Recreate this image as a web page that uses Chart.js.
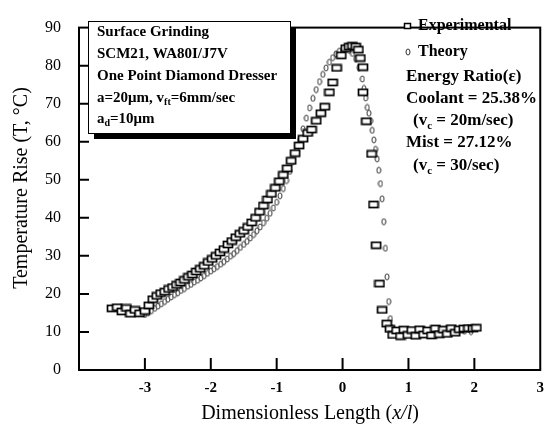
<!DOCTYPE html>
<html>
<head>
<meta charset="utf-8">
<script src="https://cdn.jsdelivr.net/npm/chart.js@4.4.1/dist/chart.umd.min.js"></script>
<style>
  body { margin: 0; background: #fff; }
  #wrap { width: 553px; height: 426px; }
</style>
</head>
<body>
<div id="wrap"><canvas id="myChart" width="553" height="426"></canvas></div>
<script>
// Datos
const xTicks = [-3, -2, -1, 0, 1, 2, 3];
const yTicks = [0, 10, 20, 30, 40, 50, 60, 70, 80, 90];

// Experimental (cuadros)
const expX = [-3.50, -3.42, -3.35, -3.28, -3.22, -3.15, -3.08, -3.00, -2.94, -2.88,
  -2.82, -2.76, -2.70, -2.64, -2.58, -2.52, -2.46, -2.40, -2.34, -2.28,
  -2.22, -2.16, -2.10, -2.04, -1.98, -1.92, -1.86, -1.80, -1.74, -1.68,
  -1.62, -1.56, -1.50, -1.44, -1.38, -1.32, -1.26, -1.20, -1.14, -1.08,
  -1.02, -0.96, -0.90, -0.84, -0.78, -0.72, -0.66, -0.60, -0.53, -0.47,
  -0.40, -0.33, -0.27, -0.20, -0.15, -0.09, -0.02, 0.05, 0.10, 0.15,
  0.20, 0.24, 0.27, 0.31, 0.31, 0.36, 0.44, 0.47, 0.51, 0.56,
  0.60, 0.67, 0.72, 0.76, 0.82, 0.88, 0.93, 0.99, 1.05, 1.11,
  1.17, 1.23, 1.29, 1.35, 1.41, 1.47, 1.53, 1.59, 1.65, 1.71,
  1.77, 1.84, 1.91, 1.98, 2.03];
const expY = [16.2, 16.5, 15.4, 16.3, 14.8, 15.8, 14.9, 15.5, 17.0, 18.6,
  19.5, 20.2, 20.6, 21.3, 21.8, 22.4, 23.0, 23.7, 24.5, 25.1,
  25.9, 26.6, 27.4, 28.4, 29.2, 30.0, 30.9, 31.8, 33.0, 33.9,
  34.9, 35.8, 36.6, 37.6, 38.8, 40.0, 41.6, 43.2, 44.8, 46.3,
  47.9, 49.6, 51.3, 53.0, 55.0, 57.0, 59.0, 60.8, 62.3, 63.2,
  65.5, 67.5, 69.2, 73.0, 75.6, 79.4, 82.7, 84.6, 85.0, 85.2,
  85.0, 84.2, 82.0, 79.6, 73.0, 65.4, 56.8, 43.5, 32.8, 22.7,
  15.8, 12.2, 10.8, 9.2, 10.4, 8.9, 10.6, 9.2, 10.5, 9.0,
  10.7, 9.3, 10.4, 9.1, 10.9, 9.4, 10.6, 9.5, 11.0, 9.8,
  10.7, 10.9, 11.0, 10.9, 11.1];

// Teoria (circulos)
const theoX = [-3.00, -2.95, -2.90, -2.85, -2.80, -2.75, -2.70, -2.65, -2.60, -2.55,
  -2.50, -2.45, -2.40, -2.35, -2.30, -2.25, -2.20, -2.15, -2.10, -2.05,
  -2.00, -1.95, -1.90, -1.85, -1.80, -1.75, -1.70, -1.65, -1.60, -1.55,
  -1.50, -1.45, -1.40, -1.35, -1.30, -1.25, -1.20, -1.15, -1.10, -1.05,
  -1.00, -0.95, -0.90, -0.85, -0.80, -0.75, -0.70, -0.65, -0.60, -0.55,
  -0.50, -0.45, -0.40, -0.35, -0.30, -0.25, -0.20, -0.15, -0.10, -0.05,
  0.00, 0.05, 0.10, 0.15, 0.20, 0.25, 0.30, 0.325, 0.35, 0.375,
  0.40, 0.425, 0.45, 0.475, 0.50, 0.525, 0.55, 0.575, 0.60, 0.625,
  0.65, 0.675, 0.70, 0.725, 0.75, 0.85, 0.95, 1.05, 1.15, 1.25,
  1.35, 1.45, 1.55, 1.65, 1.75, 1.85, 1.95];
const theoY = [14.6, 15.1, 15.6, 16.2, 16.8, 17.4, 18.0, 18.6, 19.2, 19.8,
  20.3, 20.9, 21.4, 22.0, 22.5, 23.1, 23.6, 24.2, 24.8, 25.4,
  26.0, 26.6, 27.2, 27.8, 28.5, 29.2, 29.9, 30.6, 31.4, 32.2,
  33.0, 33.8, 34.7, 35.6, 36.6, 37.6, 38.7, 39.9, 41.2, 42.6,
  44.1, 45.8, 47.7, 49.8, 52.2, 54.8, 57.6, 60.5, 63.4, 66.2,
  68.9, 71.4, 73.7, 75.8, 77.7, 79.4, 80.9, 82.1, 83.1, 83.8,
  84.2, 84.3, 84.0, 83.2, 81.8, 79.5, 76.5, 74.0, 71.5, 69.0,
  67.5, 65.5, 63.0, 60.5, 58.0, 55.5, 52.5, 49.0, 45.0, 39.0,
  32.0, 24.5, 18.0, 13.5, 11.0, 10.2, 10.0, 10.1, 9.9, 10.0,
  10.1, 10.0, 10.2, 10.0, 10.1, 10.2, 10.1];

const serif = '"Liberation Serif", "Times New Roman", serif';

// marcadores
function boxMarker(w, h, lw) {
    const c = document.createElement('canvas');
    c.width = w; c.height = h;
    const g = c.getContext('2d');
    g.fillStyle = '#fff';
    g.fillRect(1, 1, w - 2, h - 2);
    g.strokeStyle = '#000';
    g.lineWidth = lw;
    g.strokeRect(1.5, 1.5, w - 3, h - 3);
    return c;
}
function ovalMarker() {
    const c = document.createElement('canvas');
    c.width = 6; c.height = 8;
    const g = c.getContext('2d');
    g.beginPath();
    g.ellipse(3, 4, 2, 3, 0, 0, Math.PI * 2);
    g.fillStyle = '#fff';
    g.fill();
    g.strokeStyle = '#333';
    g.lineWidth = 1;
    g.stroke();
    return c;
}
const sq = boxMarker(12, 9, 1.7);
const sqSmall = boxMarker(9, 8, 1.5);
const ov = ovalMarker();

// texto con sub/superindices
function drawRuns(ctx, runs, x, y) {
    let cx = x;
    runs.forEach(r => {
        ctx.font = r.font;
        ctx.fillText(r.t, cx, y + (r.dy || 0));
        cx += ctx.measureText(r.t).width;
    });
}

const decorPlugin = {
    id: 'decor',
    afterDraw(chart) {
        const ctx = chart.ctx;
        const a = chart.chartArea;
        const xs = chart.scales.x, ys = chart.scales.y;
        ctx.save();
        ctx.strokeStyle = '#000';
        ctx.fillStyle = '#000';

        // marco
        ctx.lineWidth = 2;
        ctx.strokeRect(a.left, a.top, a.right - a.left, a.bottom - a.top);

        // ticks hacia adentro
        ctx.lineWidth = 2;
        ctx.beginPath();
        yTicks.forEach(v => {
            if (v === 0 || v === 90) return;
            const py = ys.getPixelForValue(v);
            ctx.moveTo(a.left, py);
            ctx.lineTo(a.left + 10, py);
        });
        xTicks.forEach(v => {
            if (v === 3) return;
            const px = xs.getPixelForValue(v);
            ctx.moveTo(px, a.bottom);
            ctx.lineTo(px, a.bottom - 12);
        });
        ctx.stroke();

        // caja de condiciones
        const bx = 88, by = 21, bw = 202, bh = 112;
        ctx.fillRect(bx + 6, by + 6, bw, bh);
        ctx.fillStyle = '#fff';
        ctx.fillRect(bx, by, bw, bh);
        ctx.lineWidth = 1;
        ctx.strokeRect(bx + 0.5, by + 0.5, bw, bh);
        ctx.fillStyle = '#000';
        ctx.textBaseline = 'middle';
        ctx.textAlign = 'left';
        const f = 'bold 15px ' + serif;
        const fs = 'bold 10px ' + serif;
        drawRuns(ctx, [{ t: 'Surface Grinding', font: f }], 97, 32);
        drawRuns(ctx, [{ t: 'SCM21, WA80I/J7V', font: f }], 97, 54);
        drawRuns(ctx, [{ t: 'One Point Diamond Dresser', font: f }], 97, 76);
        drawRuns(ctx, [{ t: 'a=20\u03bcm, v', font: f }, { t: 'ft', font: fs, dy: 4 }, { t: '=6mm/sec', font: f }], 97, 98);
        drawRuns(ctx, [{ t: 'a', font: f }, { t: 'd', font: fs, dy: 4 }, { t: '=10\u03bcm', font: f }], 97, 119);

        // leyenda
        ctx.drawImage(sqSmall, 403, 22);
        ctx.drawImage(ov, 405, 48);
        drawRuns(ctx, [{ t: 'Experimental', font: 'bold 16px ' + serif }], 418, 26);
        drawRuns(ctx, [{ t: 'Theory', font: 'bold 16px ' + serif }], 418, 52);

        const fb = 'bold 17px ' + serif;
        const fbs = 'bold 11px ' + serif;
        drawRuns(ctx, [{ t: 'Energy Ratio(\u03b5)', font: fb }], 406, 77);
        drawRuns(ctx, [{ t: 'Coolant = 25.38%', font: fb }], 406, 99);
        drawRuns(ctx, [{ t: '(v', font: fb }, { t: 'c', font: fbs, dy: 5 }, { t: ' = 20m/sec)', font: fb }], 413, 121);
        drawRuns(ctx, [{ t: 'Mist = 27.12%', font: fb }], 406, 143);
        drawRuns(ctx, [{ t: '(v', font: fb }, { t: 'c', font: fbs, dy: 5 }, { t: ' = 30/sec)', font: fb }], 413, 166);

        // titulos de ejes
        const ft = '20px ' + serif;
        const t1 = 'Dimensionless Length (', t2 = 'x/l', t3 = ')';
        ctx.font = ft; const w1 = ctx.measureText(t1).width;
        ctx.font = 'italic ' + ft; const w2 = ctx.measureText(t2).width;
        ctx.font = ft; const w3 = ctx.measureText(t3).width;
        const sx = 310 - (w1 + w2 + w3) / 2;
        drawRuns(ctx, [{ t: t1, font: ft }, { t: t2, font: 'italic ' + ft }, { t: t3, font: ft }], sx, 414);

        ctx.translate(22, 188);
        ctx.rotate(-Math.PI / 2);
        ctx.textAlign = 'center';
        ctx.font = ft;
        ctx.fillText('Temperature Rise (T, \u00b0C)', 0, 0);
        ctx.restore();
    }
};

const expData = expX.map((x, i) => ({ x: x, y: expY[i] }));
const theoData = theoX.map((x, i) => ({ x: x, y: theoY[i] }));

const ctx = document.getElementById('myChart').getContext('2d');
const myChart = new Chart(ctx, {
    type: 'scatter',
    data: {
        datasets: [
            { label: 'Experimental', data: expData, pointStyle: sq, pointRadius: 5 },
            { label: 'Theory', data: theoData, pointStyle: ov, pointRadius: 3 }
        ]
    },
    options: {
        responsive: false,
        animation: false,
        devicePixelRatio: 1,
        layout: { padding: { top: 15, right: 7, left: 0, bottom: 0 } },
        plugins: {
            legend: { display: false },
            tooltip: { enabled: false }
        },
        scales: {
            x: {
                type: 'linear',
                min: -4,
                max: 3,
                afterBuildTicks: s => { s.ticks = xTicks.map(v => ({ value: v })); },
                afterFit: s => { s.height = 56; },
                grid: { display: false, drawTicks: false },
                border: { display: false },
                ticks: {
                    color: '#000',
                    padding: 9,
                    maxRotation: 0,
                    font: { family: serif, size: 15, weight: 'bold' }
                }
            },
            y: {
                min: 0,
                max: 90,
                afterBuildTicks: s => { s.ticks = yTicks.map(v => ({ value: v })); },
                afterFit: s => { s.width = 79; },
                grid: { display: false, drawTicks: false },
                border: { display: false },
                ticks: {
                    color: '#000',
                    padding: 18,
                    font: { family: serif, size: 16 }
                }
            }
        }
    },
    plugins: [decorPlugin]
});
</script>
</body>
</html>
